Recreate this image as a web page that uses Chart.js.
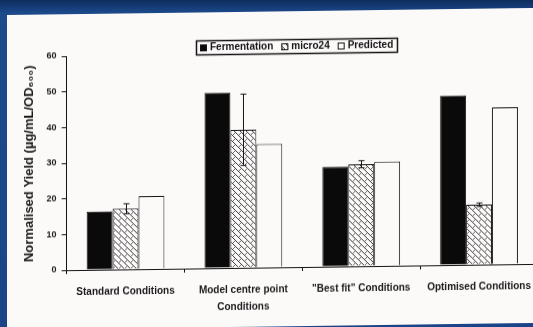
<!DOCTYPE html>
<html>
<head>
<meta charset="utf-8">
<script src="https://cdn.jsdelivr.net/npm/chart.js@4.4.1/dist/chart.umd.min.js"></script>
<style>
    html, body { margin: 0; padding: 0; }
    body {
        width: 533px;
        height: 327px;
        overflow: hidden;
        position: relative;
        background: linear-gradient(to bottom, #0e2b5e 0px, #1c4a8b 13px, #1a4487 100%);
    }
    #panel {
        position: absolute;
        left: 7px;
        top: 15px;
        width: 560px;
        height: 315px;
        background: #fcf9f9;
        transform: skewY(-0.77deg);
        transform-origin: 0 0;
    }
    #chart-wrap {
        position: absolute;
        left: 0;
        top: 0;
        width: 560px;
        height: 313px;
    }
</style>
</head>
<body>
<div id="panel">
    <div id="chart-wrap"><canvas id="yield-chart"></canvas></div>
</div>
<script>
    const categories = [
        'Standard Conditions',
        ['Model centre point', 'Conditions'],
        '"Best fit" Conditions',
        'Optimised Conditions'
    ];
    const fermentation = [16.3, 49.2, 28, 47.5];
    const micro24 = [17, 38.7, 28.6, 16.8];
    const micro24Error = [1.4, 10, 1, 0.5];
    const predicted = [20.5, 34.6, 29.2, 44];
    const yTicks = [0, 10, 20, 30, 40, 50, 60];

    const ink = '#141414';
    const labelFont = "'Liberation Sans', Arial, sans-serif";

    // white tile with "\" streaks and short "/" dashes between them
    function hatchPattern()
    {
        const tile = document.createElement('canvas');
        tile.width = 6;
        tile.height = 6;
        const c = tile.getContext('2d');
        c.fillStyle = '#fcf9f9';
        c.fillRect(0, 0, 6, 6);
        c.fillStyle = '#3a3a3a';
        for (let i = 0; i < 6; i++) {
            c.fillRect(i, i, 1, 1);
        }
        c.fillStyle = '#666';
        c.fillRect(5, 1, 1, 1);
        c.fillRect(4, 2, 1, 1);
        return c.createPattern(tile, 'repeat');
    }

    const errorBars = {
        id: 'errorBars',
        afterDatasetsDraw(chart, args, opts) {
            const meta = chart.getDatasetMeta(opts.datasetIndex);
            const values = chart.data.datasets[opts.datasetIndex].data;
            const y = chart.scales.y;
            const ctx = chart.ctx;
            ctx.save();
            ctx.strokeStyle = ink;
            ctx.lineWidth = 1;
            meta.data.forEach((bar, i) => {
                const top = y.getPixelForValue(values[i] + opts.errors[i]);
                const bottom = y.getPixelForValue(values[i] - opts.errors[i]);
                const x = Math.round(bar.x) + 0.5;
                ctx.beginPath();
                ctx.moveTo(x, top);
                ctx.lineTo(x, bottom);
                ctx.moveTo(x - 3, top);
                ctx.lineTo(x + 3, top);
                ctx.moveTo(x - 3, bottom);
                ctx.lineTo(x + 3, bottom);
                ctx.stroke();
            });
            ctx.restore();
        }
    };

    // legend in a thin box, centred above the plot
    const boxLegend = {
        id: 'boxLegend',
        afterDraw(chart, args, opts) {
            const ctx = chart.ctx;
            const sw = 7, gap = 3, sep = 8, pad = 4;
            ctx.save();
            ctx.font = opts.font;
            const items = chart.data.datasets.map(ds => ({
                label: ds.label,
                fill: ds.backgroundColor,
                w: sw + gap + ctx.measureText(ds.label).width
            }));
            const total = items.reduce((s, it) => s + it.w, 0) + sep * (items.length - 1) + pad * 2;
            let x = Math.round(opts.centerX - total / 2);
            const top = opts.top, h = opts.height;

            ctx.strokeStyle = ink;
            ctx.lineWidth = 1.5;
            ctx.strokeRect(x + 0.5, top + 0.5, Math.round(total), h);

            x += pad;
            const mid = top + h / 2 + 0.5;
            ctx.textBaseline = 'middle';
            items.forEach(it => {
                ctx.fillStyle = it.fill;
                ctx.fillRect(x, mid - sw / 2, sw, sw);
                ctx.lineWidth = 1;
                ctx.strokeRect(x + 0.5, mid - sw / 2 + 0.5, sw - 1, sw - 1);
                ctx.fillStyle = ink;
                ctx.fillText(it.label, x + sw + gap, mid);
                x += it.w + sep;
            });
            ctx.restore();
        }
    };

    document.addEventListener("DOMContentLoaded", () => {
        initChart(document.getElementById('yield-chart'));
    });

    function initChart(ctx)
    {
        const dataSets = [
            { label: 'Fermentation', data: fermentation, backgroundColor: '#0a0a0a' },
            { label: 'micro24', data: micro24, backgroundColor: hatchPattern() },
            { label: 'Predicted', data: predicted, backgroundColor: '#fcf9f9' }
        ].map(ds => Object.assign(ds, {
            borderColor: ink,
            borderWidth: 1,
            barPercentage: 1,
            categoryPercentage: 0.66
        }));

        new Chart(ctx, {
            type: 'bar',
            data: {
                labels: categories,
                datasets: dataSets
            },
            plugins: [errorBars, boxLegend],
            options: {
                responsive: true,
                maintainAspectRatio: false,
                animation: false,
                layout: {
                    padding: { top: 42, right: 29, left: 12, bottom: 0 }
                },
                plugins: {
                    legend: { display: false },
                    tooltip: { enabled: false },
                    errorBars: { datasetIndex: 1, errors: micro24Error },
                    boxLegend: {
                        centerX: 290,
                        top: 28,
                        height: 14,
                        font: "bold 10px " + labelFont
                    }
                },
                scales: {
                    x: {
                        grid: {
                            offset: true,
                            drawOnChartArea: false,
                            tickLength: 4,
                            color: ink
                        },
                        border: { color: ink, width: 1 },
                        ticks: {
                            color: '#1a1a1a',
                            padding: 9,
                            maxRotation: 0,
                            autoSkip: false,
                            font: { family: labelFont, size: 10, weight: 'bold', lineHeight: 1.75 }
                        }
                    },
                    y: {
                        min: yTicks[0],
                        max: yTicks[yTicks.length - 1],
                        afterBuildTicks: axis => {
                            axis.ticks = yTicks.map(v => ({ value: v }));
                        },
                        grid: {
                            drawOnChartArea: false,
                            tickLength: 5,
                            color: ink
                        },
                        border: { color: ink, width: 1 },
                        ticks: {
                            color: '#1a1a1a',
                            padding: 5,
                            font: { family: labelFont, size: 9, weight: 'bold' }
                        },
                        title: {
                            display: true,
                            text: 'Normalised Yield (µg/mL/OD₆₀₀)',
                            color: '#1a1a1a',
                            padding: { top: 3, bottom: 4 },
                            font: { family: labelFont, size: 13, weight: 'bold' }
                        }
                    }
                }
            }
        });
    }
</script>
</body>
</html>
